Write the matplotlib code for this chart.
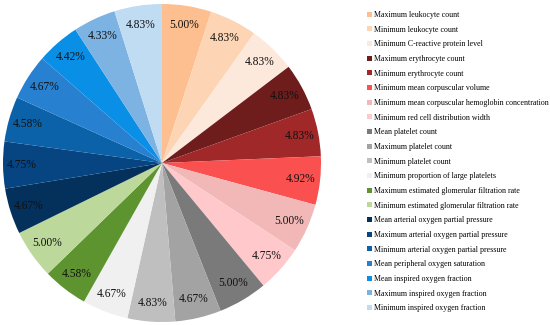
import matplotlib
matplotlib.use("Agg")
import matplotlib.pyplot as plt

features = [
    "Maximum leukocyte count",
    "Minimum leukocyte count",
    "Minimum C-reactive protein level",
    "Maximum erythrocyte count",
    "Minimum erythrocyte count",
    "Minimum mean corpuscular volume",
    "Minimum mean corpuscular hemoglobin concentration",
    "Minimum red cell distribution width",
    "Mean platelet count",
    "Maximum platelet count",
    "Minimum platelet count",
    "Minimum proportion of large platelets",
    "Maximum estimated glomerular filtration rate",
    "Minimum estimated glomerular filtration rate",
    "Mean arterial oxygen partial pressure",
    "Maximum arterial oxygen partial pressure",
    "Minimum arterial oxygen partial pressure",
    "Mean peripheral oxygen saturation",
    "Mean inspired oxygen fraction",
    "Maximum inspired oxygen fraction",
    "Minimum inspired oxygen fraction",
]
shares = [5.00, 4.83, 4.83, 4.83, 4.83, 4.92, 5.00, 4.75, 5.00, 4.67, 4.83,
          4.67, 4.58, 5.00, 4.67, 4.75, 4.58, 4.67, 4.42, 4.33, 4.83]
colors = ["#fdbf8f", "#fdd5b4", "#fde9dc", "#6e1c1c", "#a02828", "#fb5050",
          "#f2b8b8", "#ffc8ca", "#7a7a7a", "#a3a3a3", "#bfbfbf", "#f0f0f0",
          "#5e9430", "#bcd89a", "#04305c", "#064582", "#0b62a8", "#2880d0",
          "#0a8fe6", "#7db3e3", "#c0dcf2"]

plt.rcParams["font.family"] = ["Liberation Serif", "DejaVu Serif"]

fig = plt.figure(figsize=(5.5, 3.25), dpi=100)
ax = fig.add_axes([3 / 550, 3 / 325, 318 / 550, 318 / 325])

wedges, texts, autotexts = ax.pie(
    shares, colors=colors, startangle=90, counterclock=False,
    autopct=lambda p: f"{p:.2f}%", pctdistance=0.88,
    textprops={"fontsize": 8.3, "color": "#111111"},
)
ax.set_xlim(-1, 1)
ax.set_ylim(-1, 1)
ax.set_aspect("equal")

fig.legend(wedges, features, loc="upper left", bbox_to_anchor=(367 / 550, 1 - 11 / 325),
           frameon=False, fontsize=5.65, handlelength=0.6, handleheight=0.6,
           handletextpad=0.3, labelspacing=0.85, borderpad=0, borderaxespad=0)

fig.savefig("out.png", dpi=100)
